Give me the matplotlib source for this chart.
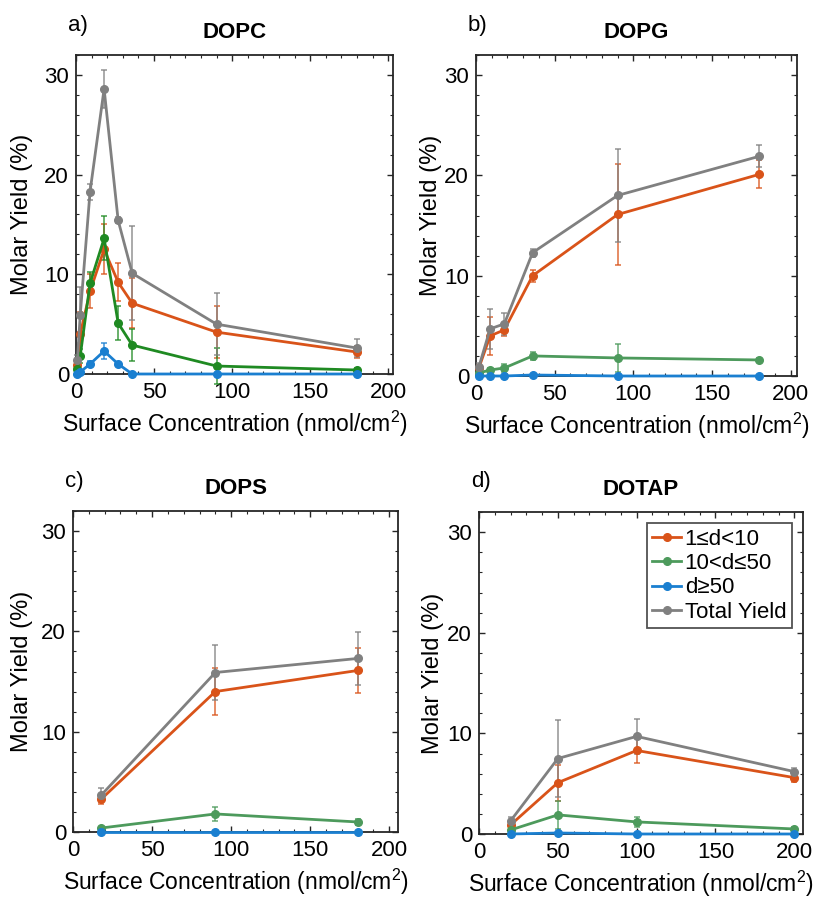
import matplotlib
matplotlib.use("Agg")
import matplotlib.pyplot as plt
from matplotlib.ticker import MultipleLocator

plt.rcParams['font.family'] = ['Liberation Sans', 'DejaVu Sans']
plt.rcParams['mathtext.fontset'] = 'custom'
plt.rcParams['mathtext.rm'] = 'Liberation Sans'
plt.rcParams['mathtext.it'] = 'Liberation Sans:italic'
plt.rcParams['mathtext.bf'] = 'Liberation Sans:bold'

# ---------------- data ----------------
series_labels = ["1\u2264d<10", "10<d\u226450", "d\u226550", "Total Yield"]

dopc_x = [0.9, 2.7, 9, 18, 27, 36, 90, 180]
dopc_small = [0.9, 4.0, 8.3, 12.5, 9.2, 7.1, 4.2, 2.2]
dopc_small_err = [0.3, 2.2, 1.7, 2.5, 1.9, 2.5, 2.6, 0.6]
dopc_mid = [0.5, 1.8, 9.1, 13.6, 5.1, 2.9, 0.8, 0.4]
dopc_mid_err = [0.2, 0.7, 1.1, 2.2, 1.7, 1.6, 1.8, 0.2]
dopc_large = [0.0, 0.2, 1.0, 2.3, 1.0, 0.0, 0.0, 0.0]
dopc_large_err = [0.0, 0.1, 0.3, 0.8, 0.2, 0.0, 0.0, 0.0]
dopc_total = [1.4, 5.9, 18.3, 28.6, 15.4, 10.1, 5.0, 2.6]
dopc_total_err = [0.5, 2.8, 0.8, 1.9, 0.3, 4.7, 3.1, 0.9]

dopg_x = [1.8, 9, 18, 36, 90, 180]
dopg_small = [0.8, 4.0, 4.6, 10.0, 16.1, 20.1]
dopg_small_err = [0.3, 1.9, 0.6, 0.6, 5.0, 1.4]
dopg_mid = [0.3, 0.6, 0.8, 2.0, 1.8, 1.6]
dopg_mid_err = [0.1, 0.2, 0.4, 0.4, 1.4, 0.2]
dopg_large = [0.0, 0.0, 0.0, 0.1, 0.0, 0.0]
dopg_large_err = [0.0, 0.0, 0.0, 0.0, 0.0, 0.0]
dopg_total = [0.9, 4.7, 5.2, 12.3, 18.0, 21.9]
dopg_total_err = [0.4, 2.0, 1.1, 0.4, 4.6, 1.1]

dops_x = [18, 90, 180]
dops_small = [3.3, 14.0, 16.1]
dops_small_err = [0.5, 2.3, 2.2]
dops_mid = [0.4, 1.8, 1.0]
dops_mid_err = [0.1, 0.7, 0.3]
dops_large = [0.0, 0.0, 0.0]
dops_large_err = [0.0, 0.0, 0.0]
dops_total = [3.7, 15.9, 17.3]
dops_total_err = [0.7, 2.7, 2.6]

dotap_x = [20, 50, 100, 200]
dotap_small = [0.9, 5.1, 8.3, 5.6]
dotap_small_err = [0.3, 1.8, 1.2, 0.4]
dotap_mid = [0.4, 1.9, 1.2, 0.5]
dotap_mid_err = [0.1, 1.4, 0.5, 0.2]
dotap_large = [0.0, 0.1, 0.0, 0.0]
dotap_large_err = [0.0, 0.0, 0.0, 0.0]
dotap_total = [1.3, 7.5, 9.7, 6.2]
dotap_total_err = [0.4, 3.8, 1.7, 0.4]

# ---------------- layout ----------------
W, H = 824, 898
fig = plt.figure(figsize=(W / 100, H / 100), dpi=100)

def px_axes(left, top, right, bottom):
    return fig.add_axes([left / W, 1 - bottom / H, (right - left) / W, (bottom - top) / H])

panels = [
    dict(box=(76, 55, 393, 374), xmax=203, title="DOPC", tag="a)", ylab_x=22,
         x=dopc_x, s=(dopc_small, dopc_small_err), m=(dopc_mid, dopc_mid_err),
         l=(dopc_large, dopc_large_err), t=(dopc_total, dopc_total_err), green="#1f8a22"),
    dict(box=(476, 55, 797, 376), xmax=204, title="DOPG", tag="b)", ylab_x=431,
         x=dopg_x, s=(dopg_small, dopg_small_err), m=(dopg_mid, dopg_mid_err),
         l=(dopg_large, dopg_large_err), t=(dopg_total, dopg_total_err), green="#4d9a5c"),
    dict(box=(73, 511, 398, 832), xmax=205.5, title="DOPS", tag="c)", ylab_x=22,
         x=dops_x, s=(dops_small, dops_small_err), m=(dops_mid, dops_mid_err),
         l=(dops_large, dops_large_err), t=(dops_total, dops_total_err), green="#4d9a5c"),
    dict(box=(479, 512, 803, 834), xmax=205.5, title="DOTAP", tag="d)", ylab_x=433,
         x=dotap_x, s=(dotap_small, dotap_small_err), m=(dotap_mid, dotap_mid_err),
         l=(dotap_large, dotap_large_err), t=(dotap_total, dotap_total_err), green="#4d9a5c"),
]

orange = "#d95319"
blue = "#1a7fd0"
gray = "#808080"
FS = 16

for i, p in enumerate(panels):
    left, top, right, bottom = p["box"]
    ax = px_axes(left, top, right, bottom)
    cols = [orange, p["green"], blue, gray]
    data = [p["s"], p["m"], p["l"], p["t"]]
    handles = []
    for (vals, errs), c, lab in zip(data, cols, series_labels):
        eb = ax.errorbar(p["x"], vals, yerr=errs, color=c, lw=2.0, marker='o', ms=5.5,
                         capsize=2.5, elinewidth=1.1, capthick=1.1, label=lab, zorder=3)
        for a in list(eb.lines[1]) + list(eb.lines[2]):
            a.set_alpha(0.85)
            a.set_clip_on(False)
        eb.lines[0].set_clip_on(False)
        handles.append(eb.lines[0])
    ax.set_xlim(0, p["xmax"])
    ax.set_ylim(0, 32)
    ax.xaxis.set_major_locator(MultipleLocator(50))
    ax.xaxis.set_minor_locator(MultipleLocator(10))
    ax.yaxis.set_major_locator(MultipleLocator(10))
    ax.yaxis.set_minor_locator(MultipleLocator(2))
    ax.tick_params(which='both', direction='in', top=True, right=True, labelsize=FS,
                   color='#262626')
    ax.tick_params(axis='x', pad=6)
    ax.tick_params(axis='y', pad=5)
    ax.tick_params(which='major', length=4, width=1.0)
    ax.tick_params(which='minor', length=2.5, width=0.8)
    for sp in ax.spines.values():
        sp.set_linewidth(1.3)
        sp.set_color('#262626')
    ax.set_title(p["title"], fontsize=FS, fontweight='bold', pad=12)
    hgt = bottom - top
    wid = right - left
    ax.set_xlabel("Surface Concentration (nmol/cm$^{2}$)", fontsize=16.5, va='center')
    ax.xaxis.set_label_coords(0.5, -50 / hgt)
    ax.set_ylabel("Molar Yield (%)", fontsize=17, va='center')
    ax.yaxis.set_label_coords((p["ylab_x"] - left) / wid, 0.5)
    fig.text((left - 8) / W, 1 - (top - 30) / H, p["tag"], fontsize=FS, ha='left', va='center')
    if i == 3:
        leg = ax.legend(handles=handles, labels=series_labels, loc='upper right',
                        fontsize=FS, frameon=True, fancybox=False, edgecolor='#262626',
                        handlelength=1.3, handletextpad=0.15, borderpad=0.25, labelspacing=0.15,
                        borderaxespad=0.5)
        leg.get_frame().set_linewidth(1.3)
        leg.set_zorder(5)

fig.savefig("out.png", dpi=100)
